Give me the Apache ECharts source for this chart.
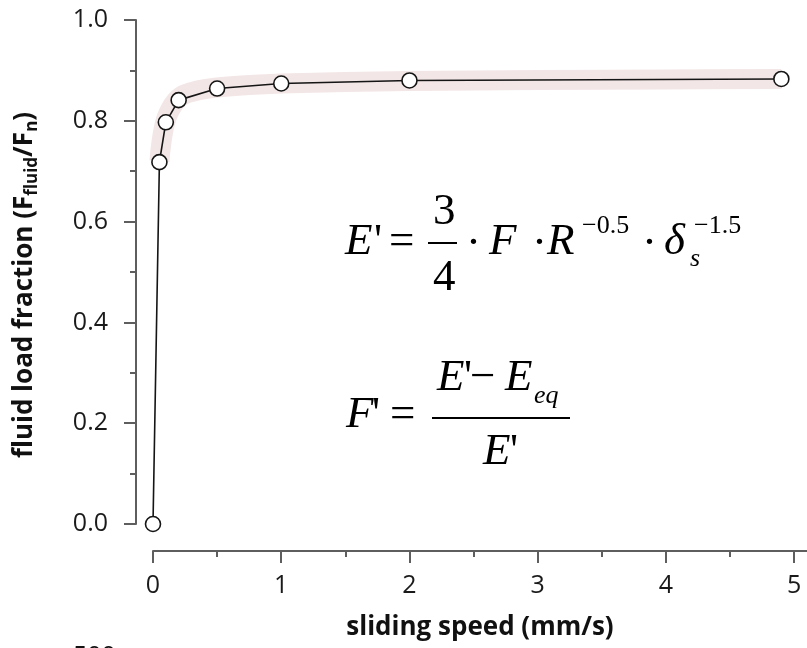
<!DOCTYPE html>
<html>
<head>
<meta charset="utf-8">
<script src="https://cdn.jsdelivr.net/npm/echarts@6.0.0/dist/echarts.min.js"></script>
<style>
html, body { margin: 0; padding: 0; background: #fff; }
#chart { width: 807px; height: 648px; }
</style>
</head>
<body>
<div id="chart"></div>
<script>
// measured points
var speed = [0, 0.05, 0.1, 0.2, 0.5, 1, 2, 4.9];
var fraction = [0, 0.718, 0.797, 0.841, 0.864, 0.874, 0.880, 0.883];

// shaded fit band
var bandSpeed = [0.05, 0.08, 0.12, 0.2, 0.3, 0.5, 0.75, 1, 1.5, 2, 3, 4, 4.9];
var bandFraction = [0.72, 0.78, 0.815, 0.845, 0.857, 0.866, 0.871, 0.874, 0.877, 0.879, 0.881, 0.882, 0.883];

// ticks
var xMajorTicks = [0, 1, 2, 3, 4, 5];
var xMinorTicks = [0.5, 1.5, 2.5, 3.5, 4.5];

function pairs(xs, ys) {
  var out = [];
  for (var i = 0; i < xs.length; i++) out.push([xs[i], ys[i]]);
  return out;
}

var font = 'Open Sans';
var axisColor = '#5e5e5e';
var serif = '"Liberation Serif", "Times New Roman", serif';

//公式文字
function txt(s, x, y, size, italic) {
  return {
    type: 'text', x: x, y: y, silent: true,
    style: {
      text: s,
      font: (italic ? 'italic ' : '') + size + 'px ' + serif,
      fill: '#000', align: 'left', verticalAlign: 'middle'
    }
  };
}
function bar(x1, x2, y) {
  return { type: 'line', silent: true, shape: { x1: x1, y1: y, x2: x2, y2: y }, style: { stroke: '#000', lineWidth: 2 } };
}

var formulas = [
  txt('E', 345, 242, 45, true),
  txt("'", 374, 242, 45, false),
  txt('=', 389, 242, 45, false),
  txt('3', 433, 212, 45, false),
  txt('4', 433, 278, 45, false),
  bar(428, 457, 243),
  txt('·', 466, 244, 45, false),
  txt('F', 489, 242, 45, true),
  txt('·', 532, 244, 45, false),
  txt('R', 547, 242, 45, true),
  txt('\u22120.5', 582, 226, 26, false),
  txt('·', 642, 244, 45, false),
  txt('δ', 664, 242, 45, true),
  txt('s', 690, 259, 26, true),
  txt('\u22121.5', 694, 226, 26, false),

  txt('F', 346, 415, 45, true),
  txt("'", 372, 415, 45, false),
  txt('=', 390, 415, 45, false),
  bar(432, 570, 418),
  txt('E', 437, 378, 45, true),
  txt("'", 464, 378, 45, false),
  txt('\u2212', 470, 378, 45, false),
  txt('E', 505, 378, 45, true),
  txt('eq', 534, 396, 26, true),
  txt('E', 483, 452, 45, true),
  txt("'", 510, 452, 45, false),

  { type: 'text', x: 73, y: 657, silent: true,
    style: { text: '500', font: '25px "' + font + '"', fill: '#111', align: 'left', verticalAlign: 'middle' } }
];

var chart = echarts.init(document.getElementById('chart'));
var tickLine = { color: axisColor, width: 2 };

var option = {
  animation: false,
  grid: { left: 153, right: 0, top: 20, bottom: 124 },
  xAxis: [
    {
      type: 'value', min: 0, max: 5.1, position: 'bottom', offset: 27,
      axisLine: { show: true, onZero: false, lineStyle: tickLine },
      axisTick: { show: true, customValues: xMinorTicks, length: 6, lineStyle: tickLine },
      axisLabel: { show: false },
      splitLine: { show: false }
    },
    {
      type: 'value', min: 0, max: 5.1, position: 'bottom', offset: 27,
      axisLine: { show: false, onZero: false },
      axisTick: { show: true, customValues: xMajorTicks, length: 12, lineStyle: tickLine },
      axisLabel: { customValues: xMajorTicks, fontSize: 25, fontFamily: font, color: '#1a1a1a', margin: 22 },
      splitLine: { show: false },
      name: 'sliding speed (mm/s)', nameLocation: 'middle', nameGap: 64,
      nameTextStyle: { fontSize: 26, fontWeight: 'bold', fontFamily: font, color: '#111' }
    }
  ],
  yAxis: {
    type: 'value', min: 0, max: 1, interval: 0.2, offset: 17,
    axisLine: { show: true, onZero: false, lineStyle: tickLine },
    axisTick: { show: true, length: 12, lineStyle: tickLine },
    minorTick: { show: true, splitNumber: 2, length: 6, lineStyle: tickLine },
    axisLabel: {
      fontSize: 25, fontFamily: font, color: '#1a1a1a', margin: 28,
      formatter: function (v) { return v.toFixed(1); }
    },
    splitLine: { show: false },
    name: '{b|fluid load fraction (F}{s|fluid}{b|/F}{s|n}{b|)}',
    nameLocation: 'middle', nameGap: 95, nameRotate: 90,
    nameTextStyle: {
      padding: [0, 26, 0, 0],
      rich: {
        b: { fontSize: 26, fontWeight: 'bold', fontFamily: font, color: '#111', lineHeight: 32, verticalAlign: 'middle' },
        s: { fontSize: 17, fontWeight: 'bold', fontFamily: font, color: '#111', lineHeight: 17, verticalAlign: 'bottom' }
      }
    }
  },
  series: [
    {
      name: 'band', type: 'line', data: pairs(bandSpeed, bandFraction),
      symbol: 'none', smooth: 0.4, silent: true, clip: false, z: 1,
      lineStyle: { color: '#f3e6e6', width: 20, cap: 'butt', join: 'round' }
    },
    {
      name: 'fraction', type: 'line', data: pairs(speed, fraction),
      symbol: 'circle', symbolSize: 15, clip: false, z: 3,
      lineStyle: { color: '#151515', width: 1.6 },
      itemStyle: { color: '#fff', borderColor: '#151515', borderWidth: 1.6 }
    }
  ],
  graphic: formulas
};
chart.setOption(option);
</script>
</body>
</html>
